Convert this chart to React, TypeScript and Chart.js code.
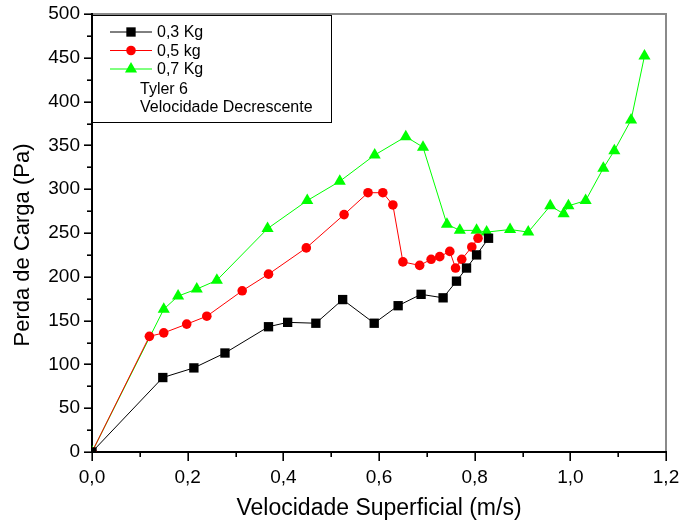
import React, { useEffect, useRef } from 'react';
import { Chart, registerables } from 'chart.js';

Chart.register(...registerables);

const FONT = "'Liberation Sans', Arial, Helvetica, sans-serif";

// ---- data ----
const vel03 = [0, 0.148, 0.213, 0.278, 0.369, 0.409, 0.468, 0.524, 0.59, 0.64, 0.688, 0.734, 0.762, 0.783, 0.804, 0.829];
const perda03 = [0, 85, 96, 113, 143, 148, 147, 174, 147, 167, 180, 176, 195, 210, 225, 244];

const vel05 = [0, 0.12, 0.15, 0.198, 0.24, 0.314, 0.369, 0.448, 0.527, 0.577, 0.608, 0.629, 0.65, 0.685, 0.709, 0.727, 0.748, 0.76, 0.773, 0.794, 0.807];
const perda05 = [0, 132, 136, 146, 155, 184, 203, 233, 271, 296, 296, 282, 217, 213, 220, 223, 229, 210, 220, 234, 244];

const vel07 = [0, 0.15, 0.18, 0.219, 0.261, 0.367, 0.45, 0.518, 0.591, 0.656, 0.692, 0.742, 0.769, 0.804, 0.825, 0.874, 0.912, 0.958, 0.986, 0.996, 1.032, 1.069, 1.092, 1.127, 1.155];
const perda07 = [0, 163, 178, 186, 196, 255, 287, 309, 339, 360, 348, 260, 253, 253, 251, 254, 251, 281, 272, 281, 287, 324, 344, 379, 452];

const seriesNames = ['0,3 Kg', '0,5 kg', '0,7 Kg'];
const legendNotes = ['Tyler 6', 'Velocidade Decrescente'];

const xTickValues = [0, 0.2, 0.4, 0.6, 0.8, 1.0, 1.2];
const xTickLabels = ['0,0', '0,2', '0,4', '0,6', '0,8', '1,0', '1,2'];
const xMinorStep = 0.1;
const yTickValues = [0, 50, 100, 150, 200, 250, 300, 350, 400, 450, 500];
const yTickLabels = ['0', '50', '100', '150', '200', '250', '300', '350', '400', '450', '500'];
const yMinorStep = 25;

const xTitle = 'Velocidade Superficial (m/s)';
const yTitle = 'Perda de Carga (Pa)';

const toPoints = (xs: number[], ys: number[]) => xs.map((x, i) => ({ x, y: ys[i] }));

function drawMarker(ctx: CanvasRenderingContext2D, style: string, x: number, y: number, r: number, color: string) {
  ctx.fillStyle = color;
  ctx.beginPath();
  if (style === 'rect') {
    const s = r * Math.SQRT1_2;
    ctx.rect(x - s, y - s, 2 * s, 2 * s);
  } else if (style === 'circle') {
    ctx.arc(x, y, r, 0, Math.PI * 2);
  } else {
    ctx.moveTo(x, y - r);
    ctx.lineTo(x + r * Math.sin(Math.PI / 3), y + r * 0.5);
    ctx.lineTo(x - r * Math.sin(Math.PI / 3), y + r * 0.5);
    ctx.closePath();
  }
  ctx.fill();
}

const framePlugin = {
  id: 'originFrame',
  beforeDatasetsDraw(chart: any) {
    const { ctx, chartArea: a, scales } = chart;
    const xs = scales.x;
    const ys = scales.y;
    ctx.save();
    ctx.lineWidth = 2;
    ctx.strokeStyle = '#8a8a8a';
    ctx.beginPath();
    ctx.moveTo(a.left, a.top);
    ctx.lineTo(a.right, a.top);
    ctx.lineTo(a.right, a.bottom);
    ctx.stroke();
    ctx.strokeStyle = '#000';
    ctx.beginPath();
    ctx.moveTo(a.left, a.top - 1);
    ctx.lineTo(a.left, a.bottom);
    ctx.lineTo(a.right + 1, a.bottom);
    ctx.stroke();
    ctx.lineWidth = 1.6;
    const yMax = ys.max;
    for (let v = ys.min; v <= yMax + 1e-6; v += yMinorStep) {
      const py = Math.round(ys.getPixelForValue(v)) + 0.2;
      const major = yTickValues.some((t) => Math.abs(t - v) < 1e-6);
      const len = major ? 8 : 5;
      ctx.beginPath();
      ctx.moveTo(a.left - len, py);
      ctx.lineTo(a.left, py);
      ctx.stroke();
    }
    const xMax = xs.max;
    for (let v = xs.min; v <= xMax + 1e-6; v += xMinorStep) {
      const px = Math.round(xs.getPixelForValue(v)) + 0.2;
      const major = xTickValues.some((t) => Math.abs(t - v) < 1e-6);
      const len = major ? 9 : 5;
      ctx.beginPath();
      ctx.moveTo(px, a.bottom);
      ctx.lineTo(px, a.bottom + len);
      ctx.stroke();
    }
    ctx.restore();
  },
  afterDraw(chart: any) {
    const { ctx, chartArea: a } = chart;
    ctx.save();
    // y-axis title, drawn slightly below the axis centre as in the original
    ctx.font = `22px ${FONT}`;
    ctx.fillStyle = '#000';
    ctx.textAlign = 'center';
    ctx.textBaseline = 'middle';
    ctx.translate(23, (a.top + a.bottom) / 2 + 12);
    ctx.rotate(-Math.PI / 2);
    ctx.fillText(yTitle, 0, 0);
    ctx.restore();

    ctx.save();
    const left = a.left;
    const top = a.top + 1;
    const w = 239;
    const h = 107;
    ctx.fillStyle = '#fff';
    ctx.fillRect(left, top, w, h);
    ctx.strokeStyle = '#000';
    ctx.lineWidth = 1;
    ctx.strokeRect(left + 0.5, top + 0.5, w, h);
    ctx.font = `16px ${FONT}`;
    ctx.textBaseline = 'middle';
    ctx.textAlign = 'left';
    const rowY = [32, 50.5, 69, 88.5, 107];
    chart.data.datasets.forEach((ds: any, i: number) => {
      const yy = rowY[i];
      ctx.strokeStyle = ds.borderColor;
      ctx.lineWidth = 1;
      ctx.beginPath();
      ctx.moveTo(110, yy);
      ctx.lineTo(152, yy);
      ctx.stroke();
      drawMarker(ctx, ds.pointStyle, 131, yy, ds.pointRadius, ds.backgroundColor);
      ctx.fillStyle = '#000';
      ctx.fillText(ds.label, 157, yy + 1);
    });
    legendNotes.forEach((t, j) => {
      ctx.fillStyle = '#000';
      ctx.fillText(t, 140, rowY[3 + j] + 1);
    });
    ctx.restore();
  },
};

export default function App() {
  const ref = useRef<HTMLCanvasElement | null>(null);
  useEffect(() => {
    const canvas = ref.current;
    if (!canvas) return;
    const mk = (label: string, data: any[], color: string, style: string, r: number) => ({
      label,
      data,
      borderColor: color,
      backgroundColor: color,
      borderWidth: 1,
      pointStyle: style,
      pointRadius: r,
      pointHoverRadius: r,
      pointBorderWidth: 0,
      pointBackgroundColor: color,
      pointBorderColor: color,
      tension: 0,
      fill: false,
    });
    const chart = new Chart(canvas, {
      type: 'line',
      data: {
        datasets: [
          mk(seriesNames[0], toPoints(vel03, perda03), '#000000', 'rect', 6.6),
          mk(seriesNames[1], toPoints(vel05, perda05), '#ff0000', 'circle', 4.8),
          mk(seriesNames[2], toPoints(vel07, perda07), '#00ff00', 'triangle', 7),
        ],
      },
      options: {
        animation: false,
        responsive: false,
        maintainAspectRatio: false,
        devicePixelRatio: 1,
        layout: { padding: { top: 14, right: 16, left: 0, bottom: 0 } },
        plugins: {
          legend: { display: false },
          tooltip: { enabled: false },
        },
        scales: {
          x: {
            type: 'linear',
            min: 0,
            max: 1.2,
            grid: { display: false, drawTicks: false },
            border: { display: false },
            afterBuildTicks: (s: any) => {
              s.ticks = xTickValues.map((v) => ({ value: v }));
            },
            afterFit: (s: any) => {
              s.height = 73;
              s.paddingLeft = 0;
              s.paddingRight = 0;
              s.paddingTop = 0;
              s.paddingBottom = 0;
            },
            ticks: {
              padding: 14,
              color: '#000',
              font: { family: FONT, size: 19 },
              maxRotation: 0,
              autoSkip: false,
              callback: (_v: any, i: number) => xTickLabels[i],
            },
            title: {
              display: true,
              text: xTitle,
              color: '#000',
              font: { family: FONT, size: 23 },
              padding: { top: 0, bottom: 3 },
            },
          },
          y: {
            type: 'linear',
            min: 0,
            max: 500,
            grid: { display: false, drawTicks: false },
            border: { display: false },
            afterBuildTicks: (s: any) => {
              s.ticks = yTickValues.map((v) => ({ value: v }));
            },
            afterFit: (s: any) => {
              s.width = 92;
              s.paddingLeft = 0;
              s.paddingRight = 0;
              s.paddingTop = 0;
              s.paddingBottom = 0;
            },
            ticks: {
              padding: 12,
              color: '#000',
              font: { family: FONT, size: 19 },
              autoSkip: false,
              callback: (_v: any, i: number) => yTickLabels[i],
            },
            title: { display: false },
          },
        },
      },
      plugins: [framePlugin],
    } as any);
    return () => chart.destroy();
  }, []);
  return (
    <div style={{ position: 'fixed', left: 0, top: 0, width: 682, height: 525, background: '#fff' }}>
      <canvas ref={ref} width={682} height={525} style={{ display: 'block', width: 682, height: 525 }} />
    </div>
  );
}
